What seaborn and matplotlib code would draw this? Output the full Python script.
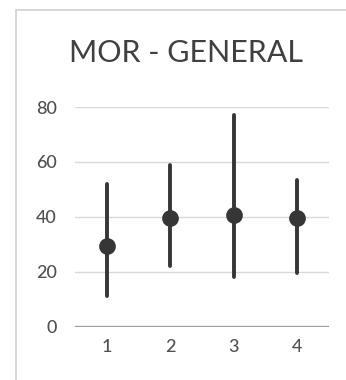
import pandas as pd
import numpy as np
import seaborn as sns
import matplotlib.pyplot as plt
from matplotlib.patches import Rectangle

# Значення з картинки: нижня межа, точка, верхня межа
groups = ["1", "2", "3", "4"]
low = [11, 22, 18, 19.5]
mid = [29.5, 39.5, 40.5, 39.5]
high = [52, 59, 77, 53.5]
y_ticks = [0, 20, 40, 60, 80]

rows = []
for g, lo, m, hi in zip(groups, low, mid, high):
    for v in (lo, m, hi):
        rows.append({"group": g, "value": v})
df = pd.DataFrame(rows)

sns.set_style("white")
plt.rcParams["font.family"] = ["Lato", "DejaVu Sans"]

fig = plt.figure(figsize=(3.46, 3.80), dpi=100)
fig.patch.set_facecolor("white")
fig.patches.append(Rectangle((16 / 346, -0.1), 1.0, 1 - 10 / 380 + 0.1,
                             transform=fig.transFigure, fill=False,
                             edgecolor="#d0d0d0", linewidth=1.2))

ax = fig.add_axes([75 / 346, 1 - 326.7 / 380, 254 / 346, 219.7 / 380])
sns.pointplot(data=df, x="group", y="value", estimator="median",
              errorbar=("pi", 100), color="#363636", linestyle="none",
              markersize=10, err_kws={"linewidth": 2.8}, ax=ax)

ax.set_ylim(0, 80)
ax.set_xlim(-0.5, 3.5)
ax.set_yticks(y_ticks)
ax.set_xlabel("")
ax.set_ylabel("")
ax.grid(axis="y", color="#d9d9d9", linewidth=1)
ax.axhline(0, color="#a0a0a0", linewidth=2.4, zorder=1)
for s in ax.spines.values():
    s.set_visible(False)
ax.tick_params(axis="y", colors="#505050", labelsize=13, length=0, pad=13)
ax.tick_params(axis="x", colors="#505050", labelsize=13, length=0, pad=9)
for lab in ax.get_xticklabels() + ax.get_yticklabels():
    lab.set_fontweight("medium")
ax.set_facecolor("white")

fig.text(186 / 346, 1 - 53 / 380, "MOR - GENERAL", ha="center", va="center",
         fontsize=22, color="#404040")

fig.savefig("out.png", dpi=100)
